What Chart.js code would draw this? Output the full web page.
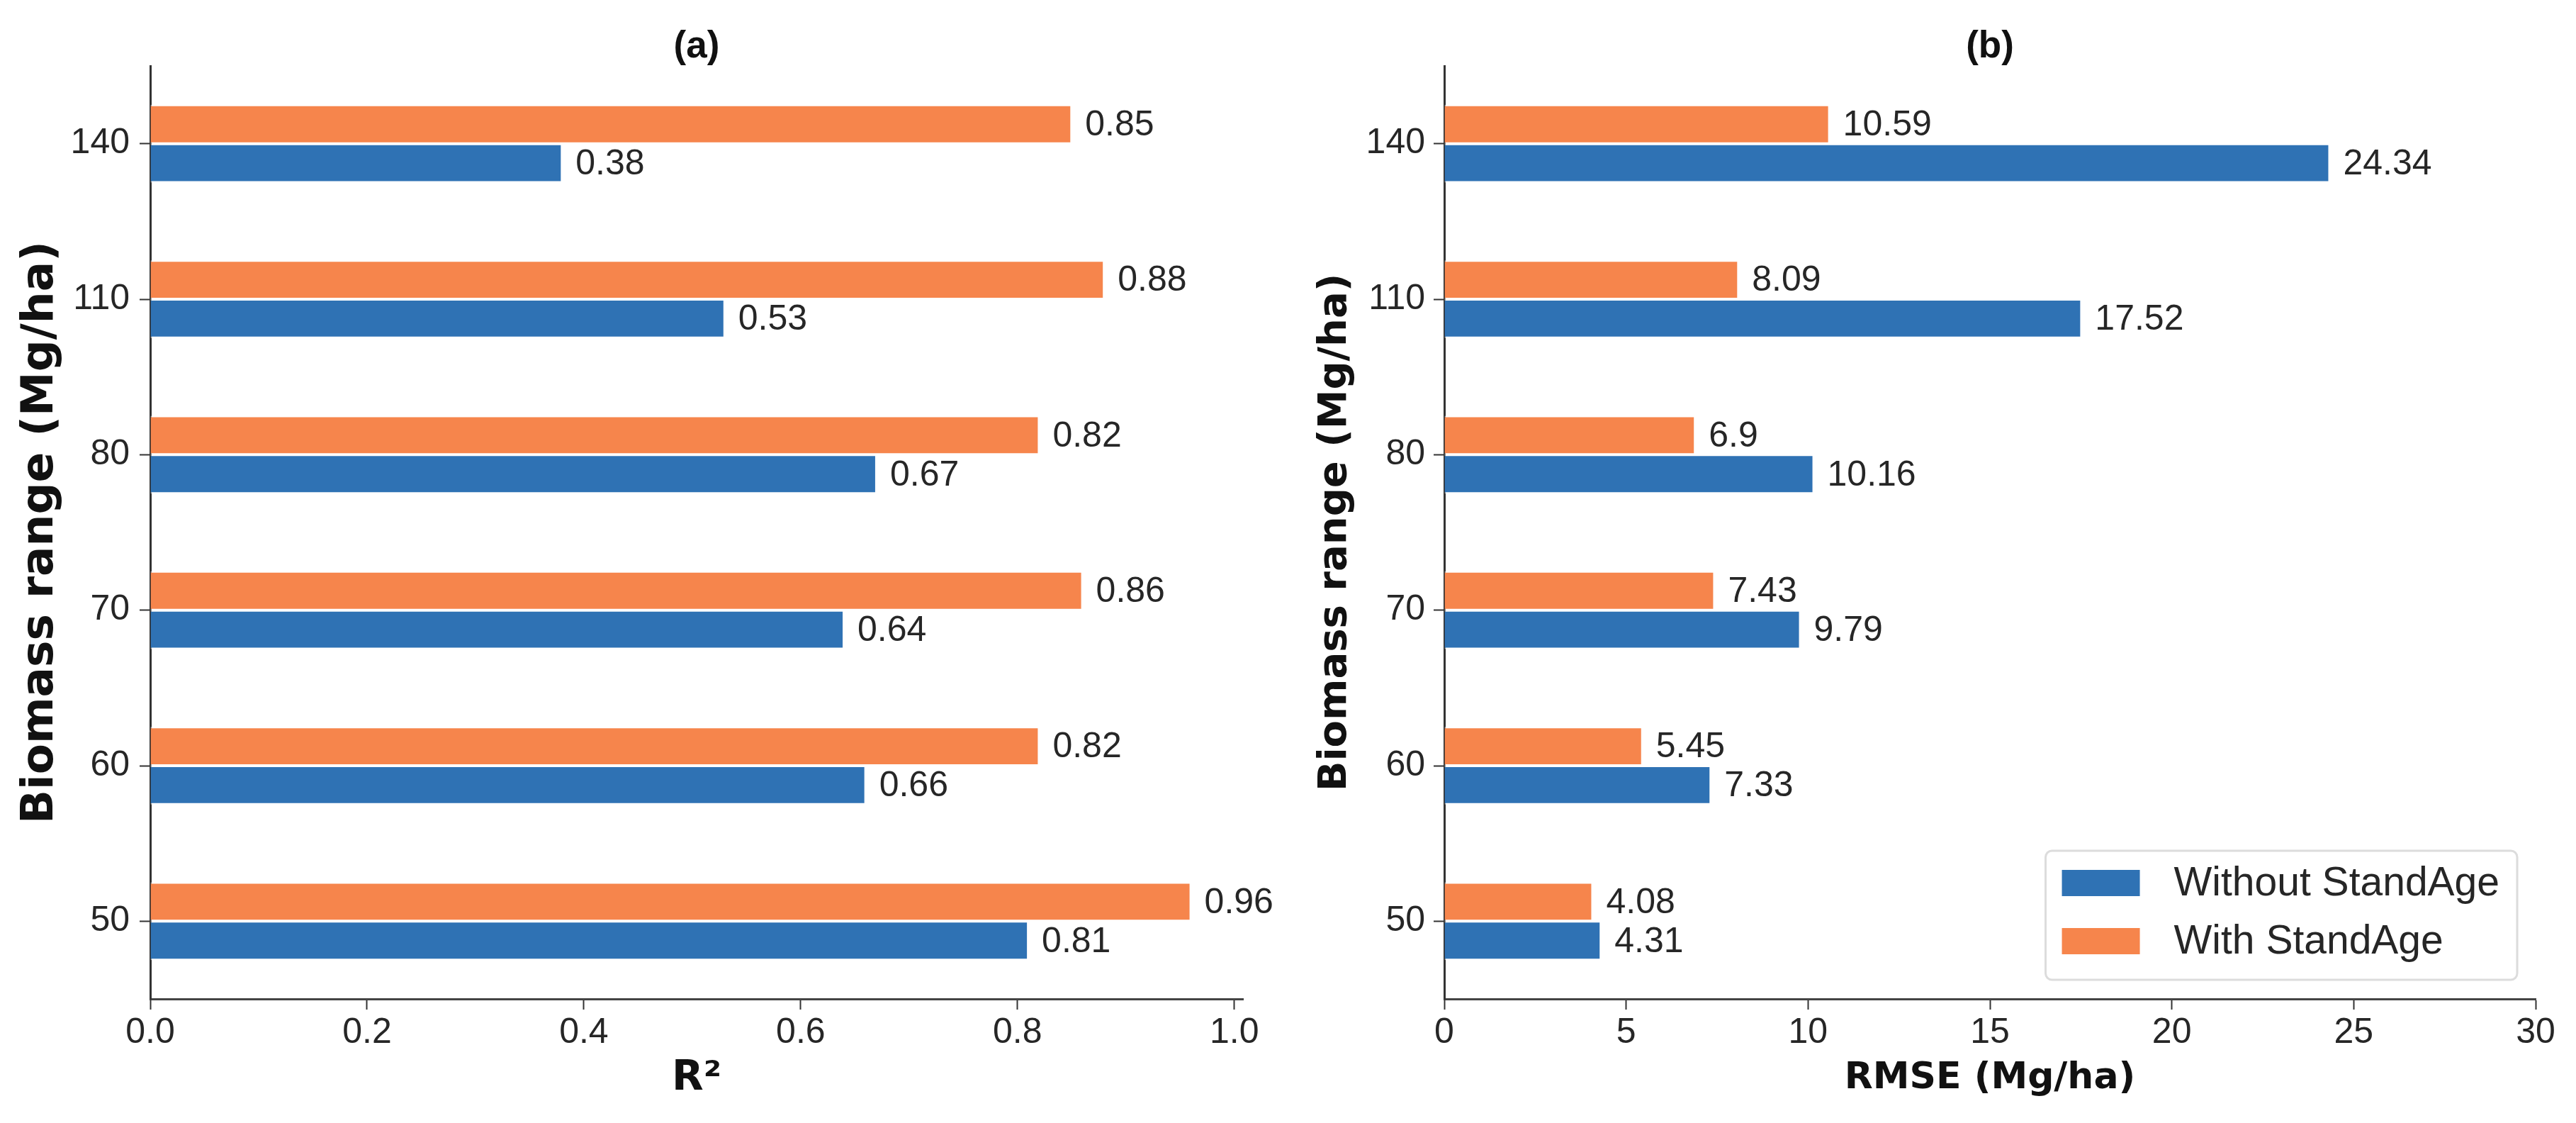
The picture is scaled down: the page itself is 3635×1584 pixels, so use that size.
<!DOCTYPE html>
<html><head><meta charset="utf-8">
<script src="https://cdn.jsdelivr.net/npm/chart.js@4.4.1/dist/chart.umd.min.js"></script>
<style>
html,body{margin:0;padding:0;background:#fff;}
#wrap{position:relative;width:3635px;height:1584px;background:#fff;}
#c1box{position:absolute;left:0;top:0;width:1800px;height:1584px;}
#c2box{position:absolute;left:1800px;top:0;width:1835px;height:1584px;}
canvas{display:block;}
</style></head><body>
<div id="wrap">
<div id="c1box"><canvas id="c1" width="1800" height="1584"></canvas></div>
<div id="c2box"><canvas id="c2" width="1835" height="1584"></canvas></div>
</div>
<script>
// ---- data ----
const categories = ['140', '110', '80', '70', '60', '50'];
const seriesNames = ['Without StandAge', 'With StandAge'];
const r2Without = [0.38, 0.53, 0.67, 0.64, 0.66, 0.81];
const r2With = [0.85, 0.88, 0.82, 0.86, 0.82, 0.96];
const rmseWithout = [24.34, 17.52, 10.16, 9.79, 7.33, 4.31];
const rmseWith = [10.59, 8.09, 6.9, 7.43, 5.45, 4.08];
const panelTitles = ['(a)', '(b)'];
const xTitles = ['R\u00B2', 'RMSE (Mg/ha)'];
const yTitle = 'Biomass range (Mg/ha)';

// ---- style ----
const BLUE = '#2f72b4';
const ORANGE = '#f6854c';
const TXT = '#262626';
const AX = '#333333';
const SANS = '"Liberation Sans", Arial, sans-serif';
const BOLD = '"DejaVu Sans", sans-serif';

const valueLabels = {
  id: 'valueLabels',
  afterDatasetsDraw(chart) {
    const ctx = chart.ctx;
    ctx.save();
    ctx.font = '50px ' + SANS;
    ctx.fillStyle = TXT;
    ctx.textAlign = 'left';
    ctx.textBaseline = 'middle';
    chart.data.datasets.forEach((ds, di) => {
      const meta = chart.getDatasetMeta(di);
      meta.data.forEach((bar, i) => {
        ctx.fillText(String(ds.data[i]), bar.x + 19, bar.y + 2);
      });
    });
    ctx.restore();
  }
};

const panelTitle = {
  id: 'panelTitle',
  afterDraw(chart, args, opts) {
    const ctx = chart.ctx;
    const a = chart.chartArea;
    ctx.save();
    ctx.font = 'bold 53px ' + SANS;
    ctx.fillStyle = '#111';
    ctx.textAlign = 'center';
    ctx.textBaseline = 'middle';
    ctx.fillText(opts.text, (a.left + a.right) / 2, 66);
    ctx.restore();
  }
};

const boxLegend = {
  id: 'boxLegend',
  afterDraw(chart, args, opts) {
    if (!opts.show) return;
    const ctx = chart.ctx;
    const a = chart.chartArea;
    ctx.save();
    ctx.font = '57px ' + SANS;
    const order = [1, 0];
    let tw = 0;
    order.forEach(i => { tw = Math.max(tw, ctx.measureText(chart.data.datasets[i].label).width); });
    const right = a.right - 26, bottom = a.bottom - 27;
    const w = 23 + 110 + 48 + tw + 25;
    const h = 182;
    const left = right - w, top = bottom - h;
    ctx.beginPath();
    ctx.roundRect(left, top, w, h, 9);
    ctx.fillStyle = 'rgba(255,255,255,0.85)';
    ctx.fill();
    ctx.lineWidth = 3;
    ctx.strokeStyle = '#dcdcdc';
    ctx.stroke();
    order.forEach((di, k) => {
      const ds = chart.data.datasets[di];
      const cy = top + 45 + k * 82;
      ctx.fillStyle = ds.backgroundColor;
      ctx.fillRect(left + 23, cy - 18, 110, 37);
      ctx.fillStyle = TXT;
      ctx.textAlign = 'left';
      ctx.textBaseline = 'middle';
      ctx.fillText(ds.label, left + 23 + 110 + 48, cy + 2);
    });
    ctx.restore();
  }
};

function makeChart(id, withData, withoutData, opt) {
  return new Chart(document.getElementById(id), {
    type: 'bar',
    data: {
      labels: categories,
      datasets: [
        { label: seriesNames[1], data: withData, backgroundColor: ORANGE,
          borderColor: 'rgba(255,255,255,0.55)', borderWidth: 2, borderSkipped: 'start',
          categoryPercentage: 0.5, barPercentage: 1.0 },
        { label: seriesNames[0], data: withoutData, backgroundColor: BLUE,
          borderColor: 'rgba(255,255,255,0.55)', borderWidth: 2, borderSkipped: 'start',
          categoryPercentage: 0.5, barPercentage: 1.0 }
      ]
    },
    options: {
      indexAxis: 'y',
      responsive: false,
      animation: false,
      devicePixelRatio: 1,
      layout: { padding: { left: 0, right: opt.padRight, top: 93, bottom: 0 } },
      plugins: {
        legend: { display: false },
        tooltip: { enabled: false },
        panelTitle: { text: opt.title },
        boxLegend: { show: opt.legend }
      },
      scales: {
        x: {
          type: 'linear',
          min: 0,
          max: opt.xMax,
          afterFit(s) { s.height = 175; },
          grid: { drawOnChartArea: false, drawTicks: true, tickLength: 15, tickWidth: 2, tickColor: AX },
          border: { display: true, color: '#444', width: 3 },
          ticks: {
            stepSize: opt.step,
            includeBounds: false,
            padding: 3,
            color: TXT,
            font: { family: SANS, size: 50 },
            maxRotation: 0,
            callback: v => opt.fmt(v)
          },
          title: {
            display: true, text: opt.xTitle, color: '#111',
            font: { family: BOLD, size: opt.xTitleSize, weight: 'bold' },
            padding: { top: 0, bottom: opt.xTitlePad }
          }
        },
        y: {
          type: 'category',
          offset: true,
          afterFit(s) { s.width = opt.yWidth; },
          grid: { drawOnChartArea: false, offset: false, drawTicks: true, tickLength: 15, tickWidth: 2, tickColor: AX },
          border: { display: true, color: AX, width: 3 },
          ticks: { padding: opt.yTickPad, color: TXT, font: { family: SANS, size: 50 } },
          title: {
            display: true, text: yTitle, color: '#111',
            font: { family: BOLD, size: opt.yTitleSize, weight: 'bold' },
            padding: { top: opt.yTitlePad, bottom: 0 }
          }
        }
      }
    },
    plugins: [valueLabels, panelTitle, boxLegend]
  });
}

makeChart('c1', r2With, r2Without, {
  title: panelTitles[0], xTitle: xTitles[0], xMax: 1.008, step: 0.2,
  fmt: v => Number(v).toFixed(1), padRight: 46, yWidth: 212, yTickPad: 14,
  yTitleSize: 63, yTitlePad: 20, xTitleSize: 58, xTitlePad: 27, legend: false
});
makeChart('c2', rmseWith, rmseWithout, {
  title: panelTitles[1], xTitle: xTitles[1], xMax: 30, step: 5,
  fmt: v => String(Math.round(v)), padRight: 57, yWidth: 238, yTickPad: 12,
  yTitleSize: 56, yTitlePad: 51, xTitleSize: 52, xTitlePad: 31, legend: true
});
</script>
</body></html>
